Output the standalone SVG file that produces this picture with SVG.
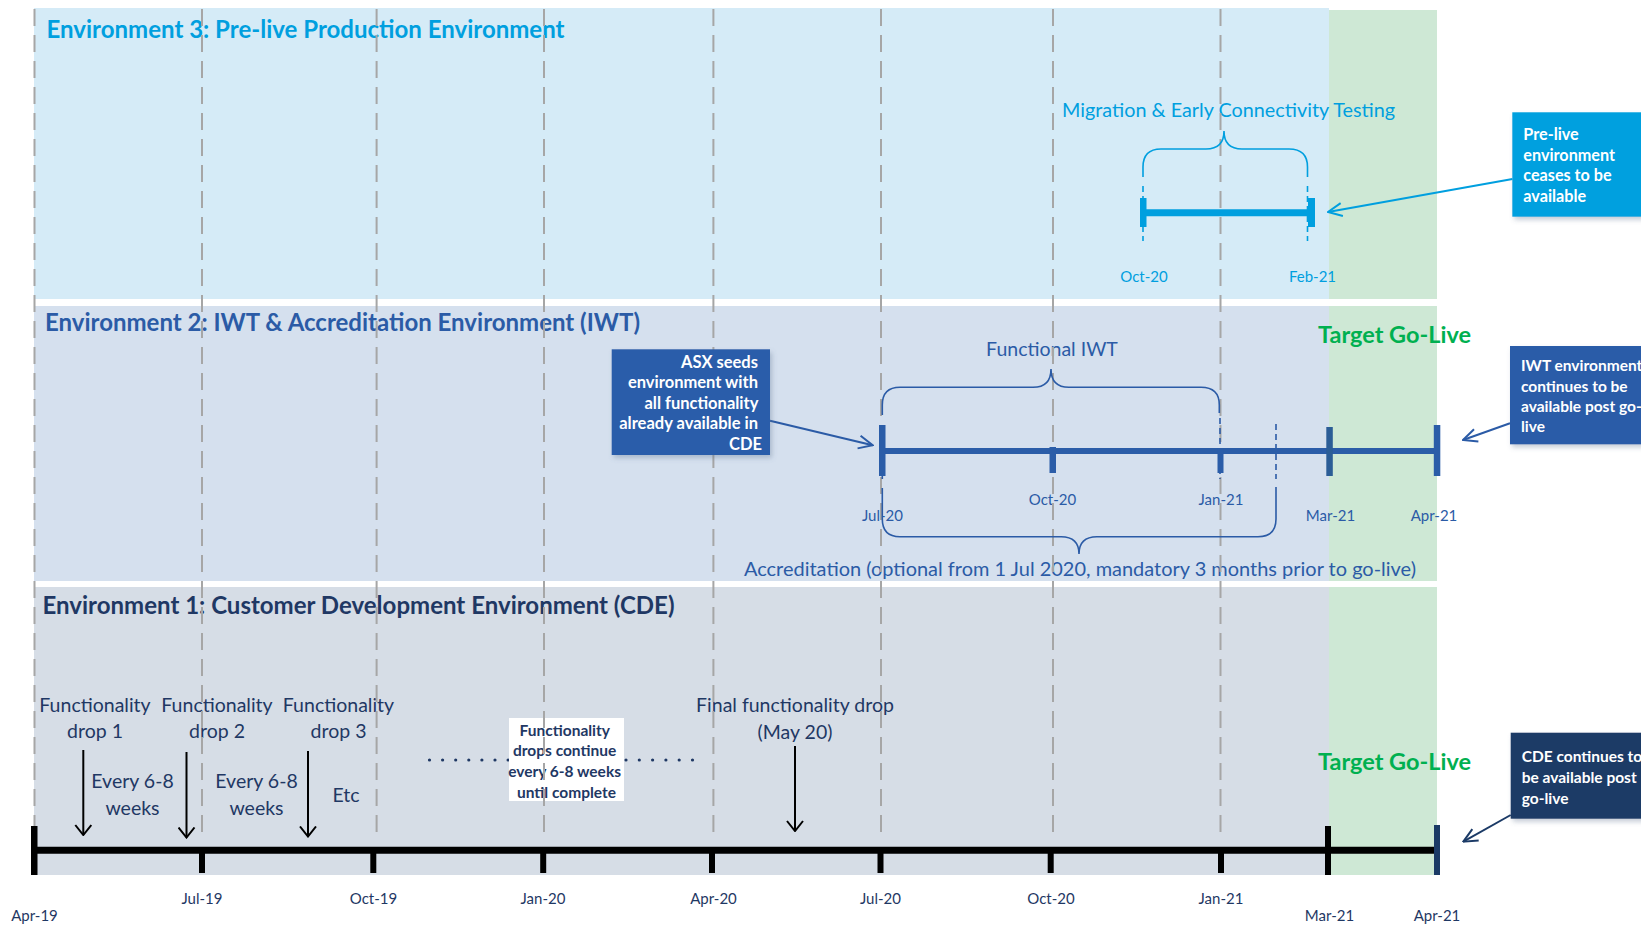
<svg xmlns="http://www.w3.org/2000/svg" width="1641" height="925" viewBox="0 0 1641 925">
  <defs>
    <style>
      .t { font-family: Lato, "Liberation Sans", sans-serif; }
      .title { font-size: 24px; font-weight: bold; }
      .lbl { font-size: 19.5px; }
      .date { font-size: 15px; }
      .note { font-size: 16.5px; font-weight: bold; }
      .side { font-size: 15.5px; }
      .golive { font-size: 23.5px; font-weight: bold; fill: #00B050; }
      .navy { fill: #1F3864; }
      .blue { fill: #2B5BA6; }
      .sky { fill: #009FDF; }
      .white { fill: #FFFFFF; }
      .grid { stroke: #A6A6A6; stroke-width: 2; stroke-dasharray: 17 9; fill: none; }
      .brace-b { fill: none; stroke: #2B5BA6; stroke-width: 1.6; }
      .brace-s { fill: none; stroke: #009FDF; stroke-width: 1.6; }
      .thin-b { stroke: #2B5BA6; stroke-width: 1.6; stroke-dasharray: 6 4; }
      .thin-s { stroke: #009FDF; stroke-width: 1.6; stroke-dasharray: 6 4; }
    </style>
    <filter id="shadow" x="-10%" y="-10%" width="130%" height="140%">
      <feDropShadow dx="2" dy="3" stdDeviation="2.5" flood-color="#5A6E8C" flood-opacity="0.35"/>
    </filter>
    <marker id="headBlack" markerUnits="userSpaceOnUse" viewBox="0 0 12 18" markerWidth="12" markerHeight="18" refX="11" refY="9" orient="auto">
      <path d="M1,1 L11,9 L1,17" fill="none" stroke="#000" stroke-width="2"/>
    </marker>
    <marker id="headSky" markerUnits="userSpaceOnUse" viewBox="0 0 16 16" markerWidth="16" markerHeight="16" refX="15" refY="8" orient="auto">
      <path d="M1,1.5 L15,8 L1,14.5" fill="none" stroke="#009FDF" stroke-width="2"/>
    </marker>
    <marker id="headBlue" markerUnits="userSpaceOnUse" viewBox="0 0 16 16" markerWidth="16" markerHeight="16" refX="15" refY="8" orient="auto">
      <path d="M1,1.5 L15,8 L1,14.5" fill="none" stroke="#2B5BA6" stroke-width="2"/>
    </marker>
    <marker id="headNavy" markerUnits="userSpaceOnUse" viewBox="0 0 16 16" markerWidth="16" markerHeight="16" refX="15" refY="8" orient="auto">
      <path d="M1,1.5 L15,8 L1,14.5" fill="none" stroke="#1B3A66" stroke-width="2"/>
    </marker>
  </defs>

  <rect width="1641" height="925" fill="#FFFFFF"/>

  <!-- environment bands -->
  <g id="env3">
    <rect x="34" y="8" width="1295" height="291" fill="#D5EBF7"/>
    <rect x="1329" y="10" width="108" height="289" fill="#CEE8D5"/>
    <text class="t title sky" x="46.5" y="38" textLength="518" lengthAdjust="spacingAndGlyphs">Environment 3: Pre-live Production Environment</text>
  </g>
  <g id="env2">
    <rect x="34" y="306" width="1295" height="275" fill="#D5E0EE"/>
    <rect x="1329" y="306" width="108" height="275" fill="#CEE8D5"/>
    <text class="t title blue" x="45" y="330.5" textLength="595" lengthAdjust="spacingAndGlyphs">Environment 2: IWT &amp; Accreditation Environment (IWT)</text>
  </g>
  <g id="env1">
    <rect x="34" y="587" width="1295" height="288" fill="#D6DDE6"/>
    <rect x="1329" y="587" width="108" height="288" fill="#CEE8D5"/>
    <text class="t title navy" x="42.5" y="613.5" textLength="632" lengthAdjust="spacingAndGlyphs">Environment 1: Customer Development Environment (CDE)</text>
  </g>

  <!-- environment 3 labels -->
  <g id="migration-label">
    <text class="t lbl sky" x="1228.5" y="116.5" text-anchor="middle" textLength="333" lengthAdjust="spacingAndGlyphs">Migration &amp; Early Connectivity Testing</text>
    <text class="t date sky" x="1144" y="282" text-anchor="middle">Oct-20</text>
    <text class="t date sky" x="1312.5" y="282" text-anchor="middle">Feb-21</text>
  </g>

  <!-- environment 2 labels -->
  <g id="iwt-labels">
    <text class="t lbl blue" x="1052" y="355.5" text-anchor="middle">Functional IWT</text>
    <text class="t golive" x="1394.5" y="343" text-anchor="middle">Target Go-Live</text>
    <text class="t date blue" x="882.5" y="521" text-anchor="middle">Jul-20</text>
    <text class="t date blue" x="1052.5" y="504.5" text-anchor="middle">Oct-20</text>
    <text class="t date blue" x="1221" y="504.5" text-anchor="middle">Jan-21</text>
    <text class="t date blue" x="1330.5" y="521" text-anchor="middle">Mar-21</text>
    <text class="t date blue" x="1434" y="521" text-anchor="middle">Apr-21</text>
    <text class="t lbl blue" x="1080" y="575.5" text-anchor="middle" textLength="672" lengthAdjust="spacingAndGlyphs">Accreditation (optional from 1 Jul 2020, mandatory 3 months prior to go-live)</text>
  </g>

  <!-- environment 1 labels -->
  <g id="cde-labels">
    <text class="t lbl navy" text-anchor="middle"><tspan x="95" y="712">Functionality</tspan><tspan x="95" y="738">drop 1</tspan></text>
    <text class="t lbl navy" text-anchor="middle"><tspan x="217" y="712">Functionality</tspan><tspan x="217" y="738">drop 2</tspan></text>
    <text class="t lbl navy" text-anchor="middle"><tspan x="338.5" y="712">Functionality</tspan><tspan x="338.5" y="738">drop 3</tspan></text>
    <text class="t lbl navy" text-anchor="middle"><tspan x="132.5" y="788">Every 6-8</tspan><tspan x="132.5" y="814.5">weeks</tspan></text>
    <text class="t lbl navy" text-anchor="middle"><tspan x="256.5" y="788">Every 6-8</tspan><tspan x="256.5" y="814.5">weeks</tspan></text>
    <text class="t lbl navy" x="346" y="801.5" text-anchor="middle">Etc</text>
    <text class="t lbl navy" text-anchor="middle"><tspan x="795" y="712">Final functionality drop</tspan><tspan x="795" y="739">(May 20)</tspan></text>
    <text class="t golive" x="1394.5" y="769.5" text-anchor="middle">Target Go-Live</text>
    <line x1="429.5" y1="760" x2="509" y2="760" stroke="#1F3864" stroke-width="3.2" stroke-linecap="round" stroke-dasharray="0 13.1"/>
    <line x1="626" y1="760" x2="694" y2="760" stroke="#1F3864" stroke-width="3.2" stroke-linecap="round" stroke-dasharray="0 13.3"/>
  </g>
  <g id="drops-continue">
    <rect x="509" y="718" width="115" height="83" fill="#FFFFFF"/>
    <text class="t note navy" text-anchor="middle" style="font-size:15.5px">
      <tspan x="566.5" y="735.5">Functionality</tspan>
      <tspan x="566.5" y="756.3">drops continue</tspan>
      <tspan x="566.5" y="777">every 6-8 weeks</tspan>
      <tspan x="566.5" y="797.6">until complete</tspan>
    </text>
  </g>

  <!-- axis labels -->
  <g id="axis-labels" class="t date navy" text-anchor="middle">
    <text x="34.5" y="921">Apr-19</text>
    <text x="202" y="903.5">Jul-19</text>
    <text x="373.5" y="903.5">Oct-19</text>
    <text x="543" y="903.5">Jan-20</text>
    <text x="713.5" y="903.5">Apr-20</text>
    <text x="880.5" y="903.5">Jul-20</text>
    <text x="1051" y="903.5">Oct-20</text>
    <text x="1221" y="903.5">Jan-21</text>
    <text x="1329.5" y="921">Mar-21</text>
    <text x="1437" y="921">Apr-21</text>
  </g>

  <!-- quarter gridlines -->
  <g id="gridlines" class="grid">
    <line x1="34.5" y1="9" x2="34.5" y2="838"/>
    <line x1="202" y1="9" x2="202" y2="838"/>
    <line x1="376.6" y1="9" x2="376.6" y2="838"/>
    <line x1="544" y1="9" x2="544" y2="838"/>
    <line x1="713.4" y1="9" x2="713.4" y2="838"/>
    <line x1="881" y1="9" x2="881" y2="838"/>
    <line x1="1053" y1="9" x2="1053" y2="838"/>
    <line x1="1220.5" y1="9" x2="1220.5" y2="838"/>
  </g>

  <!-- environment 3 timeline -->
  <g id="migration-timeline">
    <path class="brace-s" d="M1143 177 V167 Q1143 149 1161 149 H1206 Q1224 149 1224 131 Q1224 149 1242 149 H1289 Q1307.5 149 1307.5 167 V177"/>
    <line class="thin-s" x1="1143" y1="186" x2="1143" y2="241"/>
    <line class="thin-s" x1="1307.5" y1="186" x2="1307.5" y2="241"/>
    <line x1="1143" y1="212.7" x2="1311" y2="212.7" stroke="#009FDF" stroke-width="7"/>
    <rect x="1140" y="198" width="6.5" height="29" fill="#009FDF"/>
    <rect x="1308" y="198" width="7" height="29" fill="#009FDF"/>
  </g>

  <!-- environment 2 timeline -->
  <g id="iwt-timeline">
    <path class="brace-b" d="M882.3 415 V405 Q882.3 387.3 900 387.3 H1033 Q1051 387.3 1051 369 Q1051 387.3 1069 387.3 H1201 Q1219.3 387.3 1219.3 405 V413"/>
    <path class="brace-b" d="M882.3 488 V519 Q882.3 536.7 900 536.7 H1061 Q1079 536.7 1079 554 Q1079 536.7 1097 536.7 H1258 Q1276 536.7 1276 519 V487"/>
    <line class="thin-b" x1="1220" y1="418" x2="1220" y2="479"/>
    <line class="thin-b" x1="1276" y1="424" x2="1276" y2="479"/>
    <line x1="882.3" y1="476" x2="882.3" y2="479" stroke="#2B5BA6" stroke-width="1.6"/>
    <line x1="882" y1="451" x2="1437" y2="451" stroke="#2B5DA8" stroke-width="6"/>
    <rect x="879" y="425" width="6.5" height="51" fill="#2B5DA8"/>
    <rect x="1049.5" y="447" width="6.5" height="26" fill="#2B5DA8"/>
    <rect x="1217.5" y="448" width="6" height="25" fill="#2B5DA8"/>
    <rect x="1326.3" y="427" width="6.5" height="49" fill="#2B5D96"/>
    <rect x="1433.8" y="425" width="6.5" height="51" fill="#2B5DA8"/>
  </g>

  <!-- environment 1 axis -->
  <g id="cde-axis">
    <line x1="34" y1="850.3" x2="1437" y2="850.3" stroke="#000" stroke-width="7"/>
    <rect x="31" y="826" width="6.5" height="49" fill="#000"/>
    <rect x="199" y="853" width="6" height="20" fill="#000"/>
    <rect x="370.3" y="853" width="6" height="20" fill="#000"/>
    <rect x="540.2" y="853" width="6" height="20" fill="#000"/>
    <rect x="709" y="853" width="6" height="20" fill="#000"/>
    <rect x="877.5" y="853" width="6" height="20" fill="#000"/>
    <rect x="1047.7" y="853" width="6" height="20" fill="#000"/>
    <rect x="1218" y="853" width="6" height="20" fill="#000"/>
    <rect x="1325" y="826" width="6" height="49" fill="#000"/>
    <rect x="1434" y="825" width="6" height="50" fill="#1B3A66"/>
  </g>

  <!-- connectors -->
  <g id="connectors" fill="none">
    <line x1="83.3" y1="750" x2="83.3" y2="835" stroke="#000" stroke-width="2" marker-end="url(#headBlack)"/>
    <line x1="186.5" y1="752" x2="186.5" y2="837.5" stroke="#000" stroke-width="2" marker-end="url(#headBlack)"/>
    <line x1="308" y1="751" x2="308" y2="836.5" stroke="#000" stroke-width="2" marker-end="url(#headBlack)"/>
    <line x1="795" y1="746" x2="795" y2="831" stroke="#000" stroke-width="2" marker-end="url(#headBlack)"/>
    <line x1="1512.5" y1="179" x2="1328" y2="212" stroke="#009FDF" stroke-width="2" marker-end="url(#headSky)"/>
    <line x1="770" y1="420.7" x2="872.7" y2="445.3" stroke="#2B5BA6" stroke-width="2" marker-end="url(#headBlue)"/>
    <line x1="1510" y1="423.3" x2="1463" y2="440" stroke="#2B5BA6" stroke-width="2" marker-end="url(#headBlue)"/>
    <line x1="1510.7" y1="815" x2="1463.3" y2="841.7" stroke="#1B3A66" stroke-width="2" marker-end="url(#headNavy)"/>
  </g>

  <!-- callouts -->
  <g id="asx-seeds">
    <rect x="611.7" y="349.3" width="158.3" height="105.7" fill="#2B5DAA" filter="url(#shadow)"/>
    <text class="t note white" text-anchor="end">
      <tspan x="762" y="367.5">ASX seeds</tspan>
      <tspan x="762" y="388">environment with</tspan>
      <tspan x="762" y="408.5">all functionality</tspan>
      <tspan x="762" y="429">already available in</tspan>
      <tspan x="762" y="449.5">CDE</tspan>
    </text>
  </g>
  <g id="prelive-ceases">
    <rect x="1512.3" y="112.3" width="140" height="104.4" fill="#00A0DF" filter="url(#shadow)"/>
    <text class="t note white" style="font-size:16.2px">
      <tspan x="1523.3" y="140">Pre-live</tspan>
      <tspan x="1523.3" y="160.5">environment</tspan>
      <tspan x="1523.3" y="181">ceases to be</tspan>
      <tspan x="1523.3" y="201.5">available</tspan>
    </text>
  </g>
  <g id="iwt-continues">
    <rect x="1510" y="346" width="140" height="98.3" fill="#2A5CA8" filter="url(#shadow)"/>
    <text class="t note side white">
      <tspan x="1521" y="371">IWT environment</tspan>
      <tspan x="1521" y="391.5">continues to be</tspan>
      <tspan x="1521" y="412">available post go-</tspan>
      <tspan x="1521" y="432">live</tspan>
    </text>
  </g>
  <g id="cde-continues">
    <rect x="1510.7" y="732.7" width="140" height="86" fill="#1B3A66" filter="url(#shadow)"/>
    <text class="t note side white">
      <tspan x="1521.7" y="762">CDE continues to</tspan>
      <tspan x="1521.7" y="783">be available post</tspan>
      <tspan x="1521.7" y="804">go-live</tspan>
    </text>
  </g>
</svg>
